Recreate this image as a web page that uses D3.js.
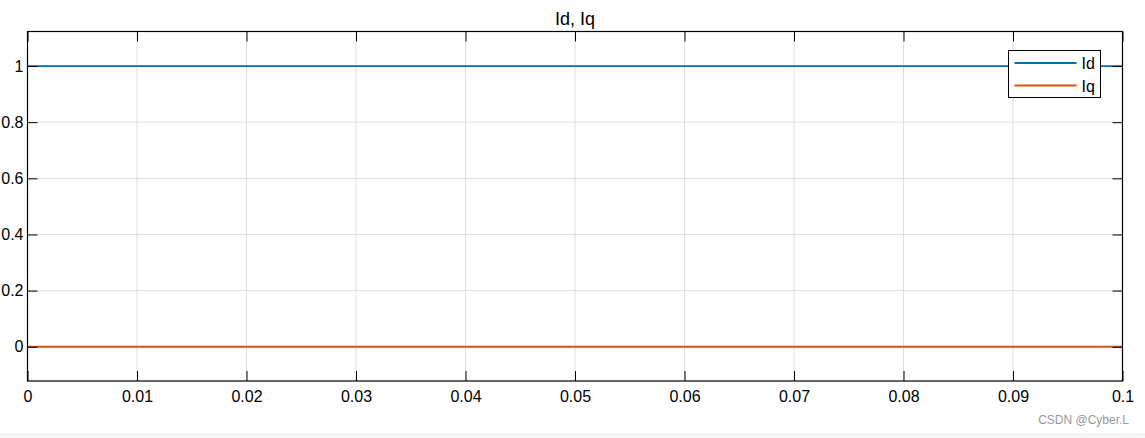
<!DOCTYPE html>
<html><head><meta charset="utf-8">
<script src="https://cdn.jsdelivr.net/npm/d3@7"></script>
<style>body{margin:0;background:#fff;}svg{display:block;font-family:"Liberation Sans",Arial,sans-serif;}</style>
</head><body><div id="chart"></div>
<script>
const title = "Id, Iq";
const time = [0, 0.01, 0.02, 0.03, 0.04, 0.05, 0.06, 0.07, 0.08, 0.09, 0.1];
const idValues = [1, 1, 1, 1, 1, 1, 1, 1, 1, 1, 1];
const iqValues = [0, 0, 0, 0, 0, 0, 0, 0, 0, 0, 0];
const seriesNames = ["Id", "Iq"];
const xTicks = [0, 0.01, 0.02, 0.03, 0.04, 0.05, 0.06, 0.07, 0.08, 0.09, 0.1];
const xTickLabels = ["0", "0.01", "0.02", "0.03", "0.04", "0.05", "0.06", "0.07", "0.08", "0.09", "0.1"];
const yTicks = [0, 0.2, 0.4, 0.6, 0.8, 1];
const yTickLabels = ["0", "0.2", "0.4", "0.6", "0.8", "1"];
const colors = ["#0072BD", "#D95319"];

const W = 1145, H = 438;
const m = {left: 27.5, right: 1145 - 1122.5, top: 31.5, bottom: 438 - 381};
const svg = d3.select("#chart").append("svg").attr("width", W).attr("height", H);
svg.append("rect").attr("width", W).attr("height", H).attr("fill", "#fff");
svg.append("rect").attr("x", 0).attr("y", 433).attr("width", W).attr("height", 5).attr("fill", "#f5f5f5");

const x = d3.scaleLinear().domain([0, 0.1]).range([m.left, W - m.right]);
const y = d3.scaleLinear().domain([-0.122, 1.123]).range([H - m.bottom, m.top]);

const g = svg.append("g");
g.selectAll(".gx").data(xTicks).join("line")
  .attr("x1", d => x(d)).attr("x2", d => x(d)).attr("y1", m.top).attr("y2", H - m.bottom)
  .attr("stroke", "#dedede").attr("stroke-width", 1);
g.selectAll(".gy").data(yTicks).join("line")
  .attr("y1", d => y(d)).attr("y2", d => y(d)).attr("x1", m.left).attr("x2", W - m.right)
  .attr("stroke", "#dedede").attr("stroke-width", 1);

const line = d3.line().x(d => x(d[0])).y(d => y(d[1]));
[idValues, iqValues].forEach((vals, i) => {
  g.append("path").datum(time.map((t, k) => [t, vals[k]]))
    .attr("d", line).attr("fill", "none").attr("stroke", colors[i]).attr("stroke-width", 1.8);
});

const tickLen = 10;
const xb = d3.axisBottom(x).tickValues(xTicks).tickFormat((d, i) => xTickLabels[i]).tickSizeInner(-tickLen).tickSizeOuter(0).tickPadding(10);
const xt = d3.axisTop(x).tickValues(xTicks).tickFormat("").tickSizeInner(-tickLen).tickSizeOuter(0);
const yl = d3.axisLeft(y).tickValues(yTicks).tickFormat((d, i) => yTickLabels[i]).tickSizeInner(-tickLen).tickSizeOuter(0).tickPadding(4);
const yr = d3.axisRight(y).tickValues(yTicks).tickFormat("").tickSizeInner(-tickLen).tickSizeOuter(0);
function style(sel) {
  sel.attr("font-size", 16).attr("font-family", '"Liberation Sans",Arial,sans-serif');
  sel.select(".domain").remove();
  sel.selectAll(".tick line").attr("stroke", "#000").attr("stroke-width", 1);
  sel.selectAll(".tick text").attr("fill", "#000");
}
svg.append("g").attr("transform", `translate(0,${H - m.bottom})`).call(xb).call(style);
svg.append("g").attr("transform", `translate(0,${m.top})`).call(xt).call(style);
svg.append("g").attr("transform", `translate(${m.left},0)`).call(yl).call(style);
svg.append("g").attr("transform", `translate(${W - m.right},0)`).call(yr).call(style);
svg.append("rect").attr("x", m.left).attr("y", m.top).attr("width", W - m.left - m.right).attr("height", H - m.top - m.bottom)
  .attr("fill", "none").attr("stroke", "#000").attr("stroke-width", 1.2);

svg.append("text").attr("x", (m.left + W - m.right) / 2).attr("y", 25).attr("text-anchor", "middle")
  .attr("font-size", 18).attr("fill", "#000").text(title);

const lg = svg.append("g").attr("transform", "translate(1008.5,50.5)");
lg.append("rect").attr("width", 92).attr("height", 47).attr("fill", "#fff").attr("stroke", "#000").attr("stroke-width", 1);
seriesNames.forEach((n, i) => {
  const yy = 12.5 + i * 22.5;
  lg.append("line").attr("x1", 6).attr("x2", 68).attr("y1", yy).attr("y2", yy).attr("stroke", colors[i]).attr("stroke-width", 1.8);
  lg.append("text").attr("x", 73).attr("y", yy + 6).attr("font-size", 16).attr("fill", "#000").text(n);
});

svg.append("text").attr("x", 1129).attr("y", 424).attr("text-anchor", "end").attr("font-size", 12).attr("fill", "#999").text("CSDN @Cyber.L");
</script></body></html>
